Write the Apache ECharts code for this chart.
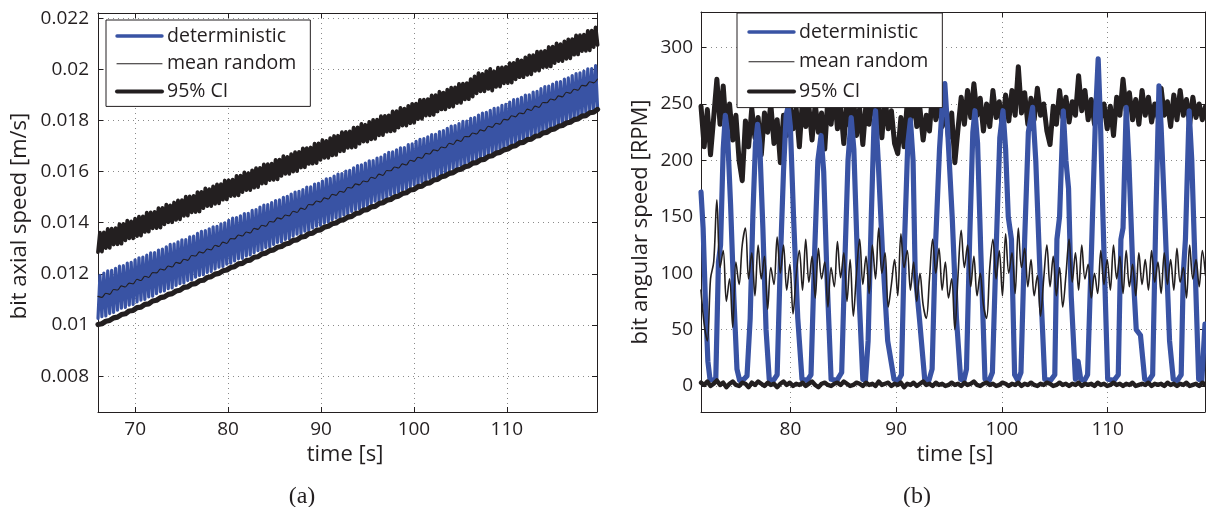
<!DOCTYPE html>
<html><head><meta charset="utf-8">
<script src="https://cdn.jsdelivr.net/npm/echarts@6/dist/echarts.min.js"></script>
<style>html,body{margin:0;padding:0;background:#fff}#c{width:1206px;height:507px}</style>
</head><body><div id="c"></div>
<script>
// ---------- names ----------
const legendNames = ['deterministic', 'mean random', '95% CI'];
const xTitle = 'time [s]';
const yTitleA = 'bit axial speed [m/s]';
const yTitleB = 'bit angular speed [RPM]';
const captionA = '(a)';
const captionB = '(b)';

// ---------- panel (a): bit axial speed [m/s] ----------
const aStart = 66;      // first sample time [s]
const aCycle = 0.42;    // one oscillation [s]; low values at cycle start, high values half a cycle later
const aDetLow = [0.01026,0.01033,0.01036,0.01045,0.01049,0.01058,0.01066,0.01069,0.01078,0.01081,
0.01090,0.01097,0.01100,0.01110,0.01113,0.01123,0.01130,0.01133,0.01142,0.01145,
0.01155,0.01162,0.01165,0.01174,0.01177,0.01187,0.01194,0.01197,0.01206,0.01210,
0.01219,0.01226,0.01229,0.01238,0.01242,0.01251,0.01259,0.01261,0.01270,0.01274,
0.01283,0.01291,0.01293,0.01303,0.01306,0.01315,0.01323,0.01325,0.01335,0.01338,
0.01348,0.01355,0.01357,0.01367,0.01370,0.01380,0.01387,0.01390,0.01399,0.01402,
0.01412,0.01419,0.01422,0.01431,0.01435,0.01444,0.01451,0.01454,0.01463,0.01467,
0.01476,0.01484,0.01486,0.01495,0.01499,0.01508,0.01516,0.01518,0.01528,0.01531,
0.01540,0.01548,0.01550,0.01560,0.01563,0.01573,0.01580,0.01582,0.01592,0.01595,
0.01605,0.01612,0.01615,0.01624,0.01627,0.01637,0.01644,0.01647,0.01656,0.01660,
0.01669,0.01676,0.01679,0.01688,0.01692,0.01701,0.01709,0.01711,0.01720,0.01724,
0.01733,0.01741,0.01743,0.01753,0.01756,0.01765,0.01773,0.01775,0.01785,0.01788,
0.01798,0.01805,0.01808,0.01817,0.01820,0.01830,0.01837,0.01840,0.01849];
const aDetHigh = [0.01194,0.01203,0.01212,0.01214,0.01222,0.01230,0.01232,0.01242,0.01245,0.01255,
0.01263,0.01266,0.01273,0.01282,0.01283,0.01293,0.01297,0.01306,0.01315,0.01317,
0.01325,0.01333,0.01334,0.01345,0.01348,0.01358,0.01366,0.01369,0.01376,0.01384,
0.01386,0.01396,0.01400,0.01409,0.01418,0.01420,0.01427,0.01436,0.01437,0.01448,
0.01451,0.01461,0.01469,0.01471,0.01479,0.01487,0.01489,0.01499,0.01503,0.01512,
0.01520,0.01523,0.01530,0.01539,0.01540,0.01551,0.01554,0.01563,0.01572,0.01574,
0.01582,0.01590,0.01592,0.01602,0.01605,0.01615,0.01623,0.01626,0.01633,0.01642,
0.01643,0.01653,0.01657,0.01666,0.01675,0.01677,0.01685,0.01693,0.01694,0.01705,
0.01708,0.01718,0.01726,0.01729,0.01736,0.01745,0.01746,0.01756,0.01760,0.01769,
0.01778,0.01780,0.01788,0.01796,0.01797,0.01808,0.01811,0.01821,0.01829,0.01832,
0.01839,0.01847,0.01849,0.01859,0.01863,0.01872,0.01881,0.01883,0.01890,0.01899,
0.01900,0.01911,0.01914,0.01924,0.01932,0.01934,0.01942,0.01950,0.01952,0.01962,
0.01966,0.01975,0.01983,0.01986,0.01993,0.02002,0.02003,0.02014];
const aMean = [0.01112,0.01108,0.01124,0.01120,0.01139,0.01137,0.01153,0.01149,0.01164,0.01161,
0.01179,0.01174,0.01191,0.01186,0.01205,0.01204,0.01219,0.01215,0.01231,0.01227,
0.01245,0.01241,0.01257,0.01253,0.01272,0.01270,0.01286,0.01282,0.01297,0.01294,
0.01312,0.01307,0.01324,0.01319,0.01338,0.01337,0.01352,0.01348,0.01364,0.01360,
0.01378,0.01374,0.01390,0.01386,0.01405,0.01403,0.01419,0.01415,0.01430,0.01427,
0.01445,0.01440,0.01457,0.01452,0.01471,0.01470,0.01485,0.01481,0.01497,0.01493,
0.01511,0.01507,0.01523,0.01519,0.01538,0.01536,0.01552,0.01548,0.01563,0.01560,
0.01578,0.01573,0.01590,0.01585,0.01604,0.01603,0.01618,0.01614,0.01630,0.01626,
0.01644,0.01640,0.01656,0.01652,0.01671,0.01669,0.01685,0.01681,0.01696,0.01693,
0.01711,0.01706,0.01723,0.01718,0.01737,0.01736,0.01751,0.01747,0.01763,0.01759,
0.01777,0.01773,0.01789,0.01785,0.01804,0.01802,0.01818,0.01814,0.01829,0.01826,
0.01844,0.01839,0.01856,0.01851,0.01870,0.01869,0.01884,0.01880,0.01896,0.01892,
0.01910,0.01906,0.01922,0.01918,0.01937,0.01935,0.01951,0.01947,0.01962];
const aCiUpperLow = [0.01285,0.01287,0.01301,0.01302,0.01315,0.01316,0.01318,0.01331,0.01339,0.01339,
0.01348,0.01350,0.01364,0.01365,0.01378,0.01379,0.01381,0.01394,0.01402,0.01402,
0.01411,0.01413,0.01427,0.01428,0.01441,0.01442,0.01444,0.01457,0.01465,0.01465,
0.01474,0.01476,0.01490,0.01491,0.01504,0.01505,0.01507,0.01520,0.01528,0.01528,
0.01537,0.01539,0.01553,0.01554,0.01567,0.01568,0.01570,0.01583,0.01591,0.01591,
0.01600,0.01602,0.01616,0.01617,0.01630,0.01631,0.01633,0.01646,0.01654,0.01654,
0.01663,0.01665,0.01679,0.01680,0.01693,0.01694,0.01696,0.01709,0.01717,0.01717,
0.01726,0.01728,0.01742,0.01743,0.01756,0.01757,0.01759,0.01772,0.01780,0.01780,
0.01789,0.01791,0.01805,0.01806,0.01819,0.01820,0.01822,0.01835,0.01843,0.01843,
0.01852,0.01854,0.01868,0.01869,0.01882,0.01883,0.01893,0.01906,0.01914,0.01914,
0.01923,0.01917,0.01931,0.01932,0.01945,0.01946,0.01948,0.01961,0.01969,0.01969,
0.01978,0.01980,0.01994,0.01995,0.02008,0.02009,0.02011,0.02024,0.02032,0.02032,
0.02041,0.02043,0.02057,0.02058,0.02071,0.02072,0.02074,0.02087,0.02095];
const aCiUpperHigh = [0.01361,0.01362,0.01376,0.01377,0.01379,0.01394,0.01395,0.01408,0.01405,0.01416,
0.01424,0.01425,0.01439,0.01440,0.01442,0.01457,0.01458,0.01471,0.01468,0.01479,
0.01487,0.01488,0.01502,0.01503,0.01505,0.01520,0.01521,0.01534,0.01531,0.01542,
0.01550,0.01551,0.01565,0.01566,0.01568,0.01583,0.01584,0.01597,0.01594,0.01605,
0.01613,0.01614,0.01628,0.01629,0.01631,0.01646,0.01647,0.01660,0.01657,0.01668,
0.01676,0.01677,0.01691,0.01692,0.01694,0.01709,0.01710,0.01723,0.01720,0.01731,
0.01739,0.01740,0.01754,0.01755,0.01757,0.01772,0.01773,0.01786,0.01783,0.01794,
0.01802,0.01803,0.01817,0.01818,0.01820,0.01835,0.01836,0.01849,0.01846,0.01857,
0.01865,0.01866,0.01880,0.01881,0.01883,0.01898,0.01899,0.01912,0.01909,0.01920,
0.01928,0.01929,0.01943,0.01944,0.01946,0.01961,0.01972,0.01985,0.01982,0.01993,
0.02001,0.01992,0.02006,0.02007,0.02009,0.02024,0.02025,0.02038,0.02035,0.02046,
0.02054,0.02055,0.02069,0.02070,0.02072,0.02087,0.02088,0.02101,0.02098,0.02109,
0.02117,0.02118,0.02132,0.02133,0.02135,0.02150,0.02151,0.02164];
const aCiLower = [0.01002,0.01005,0.01015,0.01018,0.01028,0.01031,0.01041,0.01044,0.01055,0.01057,
0.01068,0.01070,0.01081,0.01083,0.01094,0.01097,0.01107,0.01110,0.01120,0.01123,
0.01133,0.01136,0.01147,0.01149,0.01160,0.01162,0.01173,0.01175,0.01186,0.01189,
0.01199,0.01202,0.01212,0.01215,0.01225,0.01228,0.01239,0.01241,0.01252,0.01254,
0.01265,0.01267,0.01278,0.01281,0.01291,0.01294,0.01304,0.01307,0.01317,0.01320,
0.01331,0.01333,0.01344,0.01346,0.01357,0.01359,0.01370,0.01372,0.01383,0.01386,
0.01396,0.01399,0.01409,0.01412,0.01422,0.01425,0.01436,0.01438,0.01449,0.01451,
0.01462,0.01464,0.01475,0.01478,0.01488,0.01491,0.01501,0.01504,0.01514,0.01517,
0.01528,0.01530,0.01541,0.01543,0.01554,0.01556,0.01567,0.01569,0.01580,0.01583,
0.01593,0.01596,0.01606,0.01609,0.01619,0.01622,0.01633,0.01635,0.01646,0.01648,
0.01659,0.01662,0.01672,0.01675,0.01685,0.01688,0.01698,0.01701,0.01712,0.01714,
0.01725,0.01727,0.01738,0.01740,0.01751,0.01753,0.01764,0.01767,0.01777,0.01780,
0.01790,0.01793,0.01803,0.01806,0.01817,0.01819,0.01830,0.01832,0.01843];

// ---------- panel (b): bit angular speed [RPM] ----------
const bDetTime = [71.55,71.75,71.95,72.2,72.4,72.7,72.95,73.2,73.4,73.65,73.85,74.05,74.35,74.65,74.95,75.2,75.6,
75.9,76.2,76.45,76.7,76.9,77.1,77.4,77.7,78.0,78.4,
78.75,79.05,79.35,79.6,79.8,80.0,80.3,80.7,81.1,81.6,
81.95,82.3,82.6,82.9,83.15,83.45,83.85,84.4,
84.85,85.15,85.45,85.75,86.0,86.35,86.85,87.1,
87.35,87.65,87.9,88.05,88.3,88.7,89.2,89.8,90.2,
90.5,90.8,91.1,91.35,91.6,91.8,92.2,92.7,93.1,
93.4,93.7,94.1,94.45,94.6,94.85,95.3,95.7,96.1,96.4,
96.65,96.95,97.25,97.45,97.7,98.0,98.4,98.8,
99.1,99.45,99.8,100.1,100.35,100.6,100.9,101.2,101.5,
101.8,102.15,102.5,102.9,103.2,103.6,104.05,104.6,
105.0,105.2,105.45,105.8,106.05,106.3,106.55,106.95,107.2,107.45,107.8,
108.1,108.5,108.85,109.1,109.3,109.55,110.0,110.6,
111.0,111.25,111.45,111.75,112.0,112.35,112.7,113.1,113.5,113.9,
114.25,114.55,114.85,115.05,115.4,115.85,116.2,116.6,
116.95,117.15,117.35,117.7,117.95,118.25,118.6,118.9,119.2];
const bDetRPM = [172,140,80,22,6,5,7,110,125,210,240,225,160,80,15,5,6,
9,60,150,215,232,215,140,50,6,5,
10,110,190,240,248,230,150,60,6,5,
10,120,200,222,190,100,6,5,
12,110,200,238,210,110,6,5,
40,150,230,244,200,120,40,6,5,
10,130,215,236,200,100,60,6,5,
15,120,210,262,268,230,150,60,6,5,
15,130,225,244,215,120,6,5,
12,120,220,244,210,150,130,10,5,
12,130,225,247,200,100,6,5,
10,130,150,244,200,175,80,6,22,6,5,
10,130,240,290,240,150,6,5,
10,130,140,247,200,110,50,45,6,5,
10,150,266,230,150,40,6,5,
10,100,130,244,200,110,6,5,55];
const bStart = 71.55;   // first sample time [s] of the random-model curves
const bStep = 0.3;      // sample spacing [s]
const bMean = [85,55,40,95,110,165,105,120,75,95,
52,110,90,125,140,95,118,80,125,95,
115,68,105,90,132,100,125,85,108,64,
98,120,85,130,92,115,78,122,95,110,
70,105,88,128,96,118,75,112,62,100,
130,90,115,82,125,95,140,100,118,70,
90,112,80,135,105,120,85,110,75,100,
72,60,95,130,100,122,85,110,78,95,
50,98,138,105,125,88,115,80,100,72,
60,105,130,95,120,80,135,100,118,82,
140,105,122,88,112,80,98,62,95,125,
88,115,80,105,70,98,130,92,118,85,
125,95,108,78,100,82,120,90,112,85,
125,95,115,82,120,88,108,80,118,90,
112,85,120,92,110,82,118,90,112,85,
122,92,105,78,125,95,112,88,120,98];
const bCiUpper = [248,212,245,205,238,272,232,266,225,250,
218,240,200,182,235,212,246,220,238,205,
242,225,250,215,236,198,240,222,252,228,
246,212,255,230,248,218,250,225,242,210,
256,232,260,228,248,215,252,230,258,222,
246,214,250,232,262,236,248,220,256,228,
244,215,206,238,212,252,234,260,230,246,
218,240,226,262,236,255,230,248,220,242,
198,228,256,232,262,238,268,240,255,226,
250,230,262,238,252,228,258,235,262,240,
283,242,260,232,255,236,264,240,250,226,
214,248,232,262,238,256,234,252,240,275,
244,262,236,254,232,258,238,250,228,248,
222,256,240,272,244,260,236,254,232,262,
240,256,234,250,238,264,240,252,230,258,
236,262,240,254,232,256,238,250,236,248];
const bCiLower = [3,1,4,0,2,5,1,3,-1,2,4,1,0,3,2,-1,3,1,4,2,
0,3,1,2,-1,2,4,1,3,0,2,1,3,0,2,4,1,-1,2,3,
1,0,2,3,1,4,2,0,1,3,2,0,3,1,2,0,4,1,2,3,
0,2,1,3,-1,2,1,3,0,2,4,1,2,0,3,1,2,0,1,3,
1,2,0,3,1,2,4,1,0,2,3,1,2,0,1,3,2,0,2,1,
3,0,2,1,3,1,0,2,1,3,2,0,1,3,1,2,0,2,1,3,
0,2,1,2,0,3,1,2,0,1,3,1,2,0,2,1,3,0,1,2,
1,3,0,2,1,2,0,3,1,2,0,2,1,3,0,1,2,0,3,1];

// ---------- build series data ----------
function zigzag(t0, cyc, low, high) {
  const d = [];
  for (let k = 0; k < low.length; k++) {
    d.push([t0 + cyc * k, low[k]]);
    if (k < high.length) d.push([t0 + cyc * k + cyc / 2, high[k]]);
  }
  return d;
}
function sampled(t0, dt, vals) { return vals.map((v, i) => [t0 + dt * i, v]); }
function paired(ts, vs) { return ts.map((t, i) => [t, vs[i]]); }

const INK = '#231f20', BLUE = '#3953a4';
const FONT = "'Open Sans', 'Noto Sans', sans-serif";
const W_DET = 3.4, W_MEAN = 1.1, W_CI = 4;

function lineSeries(name, data, xi, color, width, extra) {
  return Object.assign({
    type: 'line', name, data, xAxisIndex: xi, yAxisIndex: xi,
    symbol: 'none', showSymbol: false, animation: false, clip: true,
    lineStyle: { color, width, join: 'round', cap: 'round' },
    itemStyle: { color }, emphasis: { disabled: true }
  }, extra || {});
}

const series = [
  lineSeries(legendNames[0], zigzag(aStart, aCycle, aDetLow, aDetHigh), 0, BLUE, 3.2),
  lineSeries(legendNames[1], sampled(aStart, aCycle, aMean), 0, INK, 1.1, { smooth: 0.3 }),
  lineSeries(legendNames[2], zigzag(aStart, aCycle, aCiUpperLow, aCiUpperHigh), 0, INK, 3.8),
  lineSeries(legendNames[2], sampled(aStart, aCycle, aCiLower), 0, INK, 5.2),
  lineSeries(legendNames[2], sampled(bStart, bStep, bCiUpper), 2, INK, 5),
  lineSeries(legendNames[0], paired(bDetTime, bDetRPM), 2, BLUE, 5.2),
  lineSeries(legendNames[1], sampled(bStart, bStep, bMean), 2, INK, 1.6, { smooth: 0.35 }),
  lineSeries(legendNames[2], sampled(bStart, bStep, bCiLower), 2, INK, 4.4)
];

const labelStyle = { color: INK, fontSize: 19, fontFamily: FONT };
const gridLine = { show: true, lineStyle: { color: '#8a8a8a', width: 1, type: [1, 4] } };
function mainAxis(grid, pos, min, max, split, margin) {
  return {
    type: 'value', gridIndex: grid, position: pos, min, max, splitNumber: split, scale: true,
    axisLine: { show: true, onZero: false, lineStyle: { color: INK, width: 1 } },
    axisTick: { show: true, inside: true, length: 5, lineStyle: { color: INK } },
    axisLabel: Object.assign({ show: true, margin, showMinLabel: false, showMaxLabel: false }, labelStyle),
    splitLine: gridLine
  };
}
function boxAxis(grid, pos, min, max, split) {
  return {
    type: 'value', gridIndex: grid, position: pos, min, max, splitNumber: split, scale: true,
    axisLine: { show: true, onZero: false, lineStyle: { color: INK, width: 1 } },
    axisTick: { show: true, inside: true, length: 5, lineStyle: { color: INK } },
    axisLabel: { show: false }, splitLine: { show: false }
  };
}

const legendItems = [
  { name: legendNames[0], lineStyle: { width: W_DET } },
  { name: legendNames[1], lineStyle: { width: W_MEAN } },
  { name: legendNames[2], lineStyle: { width: W_CI } }
];
const legendBase = {
  orient: 'vertical', data: legendItems, itemWidth: 45, itemHeight: 14,
  itemStyle: { opacity: 0, borderWidth: 0 },
  backgroundColor: '#fff', borderColor: INK, borderWidth: 1, borderRadius: 0,
  textStyle: { color: INK, fontSize: 19.5, fontFamily: FONT }, selectedMode: false, z: 10
};

function txt(text, x, y, size, family, rot) {
  return { type: 'text', x, y, rotation: rot || 0, silent: true, z: 20,
    style: { text, font: size + 'px ' + family, fill: INK, align: 'center', verticalAlign: 'middle',
      textAlign: 'center', textVerticalAlign: 'middle' } };
}

const option = {
  backgroundColor: '#fff',
  animation: false,
  grid: [
    { left: 98, top: 13, width: 499, height: 399 },
    { left: 701, top: 12, width: 504, height: 400 }
  ],
  xAxis: [
    mainAxis(0, 'bottom', 66, 119.7, 5, 8),
    boxAxis(0, 'top', 66, 119.7, 5),
    mainAxis(1, 'bottom', 71.55, 119.2, 5, 8),
    boxAxis(1, 'top', 71.55, 119.2, 5)
  ],
  yAxis: [
    mainAxis(0, 'left', 0.0066, 0.0222, 8, 9),
    boxAxis(0, 'right', 0.0066, 0.0222, 8),
    mainAxis(1, 'left', -23, 331.5, 7, 8),
    boxAxis(1, 'right', -23, 331.5, 7)
  ],
  legend: [
    Object.assign({ left: 106, top: 20, padding: [6, 14, 5, 9], itemGap: 7.7 }, legendBase),
    Object.assign({ left: 737, top: 13, padding: [9, 14, 6, 10], itemGap: 9.8 }, legendBase)
  ],
  series,
  graphic: [
    txt(xTitle, 345, 455, 22, FONT),
    txt(xTitle, 955, 455, 22, FONT),
    txt(yTitleA, 20, 216, 22, FONT, Math.PI / 2),
    txt(yTitleB, 641, 222, 22, FONT, Math.PI / 2),
    txt(captionA, 302, 497, 24, "'Liberation Serif', 'DejaVu Serif', serif"),
    txt(captionB, 917, 497, 24, "'Liberation Serif', 'DejaVu Serif', serif")
  ]
};

const chart = echarts.init(document.getElementById('c'), null, { renderer: 'canvas', width: 1206, height: 507 });
chart.setOption(option);
</script>
</body></html>
